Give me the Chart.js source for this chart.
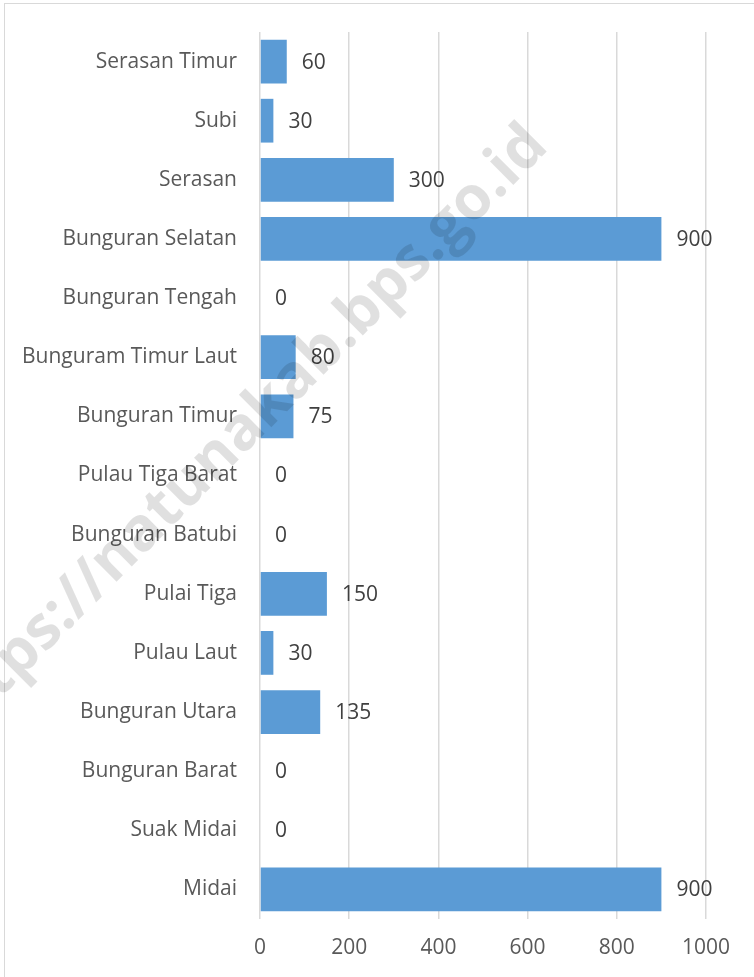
<!DOCTYPE html>
<html>
<head>
<meta charset="utf-8">
<script src="https://cdn.jsdelivr.net/npm/chart.js@4.4.1/dist/chart.umd.min.js"></script>
<style>
  html, body { margin: 0; padding: 0; background: #ffffff; overflow: hidden; }
  #wrap { position: relative; width: 754px; height: 977px; overflow: hidden; }
  #frame { position: absolute; left: 4px; top: 3px; width: 900px; height: 1100px;
           border: 1.5px solid #d9d9d9; pointer-events: none; box-sizing: border-box; }
  canvas { position: absolute; left: 0; top: 0; }
</style>
</head>
<body>
<div id="wrap">
  <div id="frame"></div>
  <canvas id="c" width="754" height="977"></canvas>
</div>
<script>
const categories = [
  "Serasan Timur", "Subi", "Serasan", "Bunguran Selatan", "Bunguran Tengah",
  "Bunguram Timur Laut", "Bunguran Timur", "Pulau Tiga Barat", "Bunguran Batubi",
  "Pulai Tiga", "Pulau Laut", "Bunguran Utara", "Bunguran Barat", "Suak Midai", "Midai"
];
const values = [60, 30, 300, 900, 0, 80, 75, 0, 0, 150, 30, 135, 0, 0, 900];
const xTicks = [0, 200, 400, 600, 800, 1000];
const watermarkText = "https://natunakab.bps.go.id";

const FONT = "'Open Sans', 'Noto Sans', sans-serif";
const FS = 21;

const valueLabels = {
  id: 'valueLabels',
  afterDatasetsDraw(chart) {
    const ctx = chart.ctx;
    const meta = chart.getDatasetMeta(0);
    ctx.save();
    ctx.font = FS + "px " + FONT;
    ctx.fillStyle = "#404040";
    ctx.textAlign = "left";
    ctx.textBaseline = "middle";
    meta.data.forEach((bar, i) => {
      ctx.fillText(String(values[i]), bar.x + 15, bar.y + 1);
    });
    ctx.restore();
  }
};

const watermark = {
  id: 'watermark',
  afterDraw(chart) {
    const ctx = chart.ctx;
    ctx.save();
    ctx.translate(239, 435);
    ctx.rotate(-45 * Math.PI / 180);
    ctx.font = "bold 60.5px " + FONT;
    ctx.fillStyle = "rgba(0,0,0,0.12)";
    ctx.textAlign = "center";
    ctx.textBaseline = "middle";
    ctx.fillText(watermarkText, 0, 0);
    ctx.restore();
  }
};

new Chart(document.getElementById('c'), {
  type: 'bar',
  data: {
    labels: categories,
    datasets: [{
      data: values,
      backgroundColor: '#5b9bd5',
      borderWidth: 0,
      barPercentage: 0.74,
      categoryPercentage: 1.0
    }]
  },
  options: {
    indexAxis: 'y',
    responsive: false,
    animation: false,
    devicePixelRatio: 1,
    layout: { padding: { top: 32, right: 48, left: 0, bottom: 0 } },
    plugins: { legend: { display: false }, tooltip: { enabled: false } },
    scales: {
      x: {
        min: 0, max: 1000,
        afterBuildTicks(scale) { scale.ticks = xTicks.map(v => ({ value: v })); },
        afterFit(scale) { scale.height = 58; },
        grid: { color: '#d9d9d9', lineWidth: 1.5, drawTicks: false },
        border: { display: false },
        ticks: { padding: 16, color: '#595959', font: { family: FONT, size: FS },
                 callback: (v) => String(v) }
      },
      y: {
        afterFit(scale) { scale.width = 260; scale.paddingTop = 0; scale.paddingBottom = 0; },
        grid: { display: false, drawTicks: false },
        border: { display: false },
        ticks: { padding: 23, color: '#595959', font: { family: FONT, size: FS } }
      }
    }
  },
  plugins: [valueLabels, watermark]
});
</script>
</body>
</html>
